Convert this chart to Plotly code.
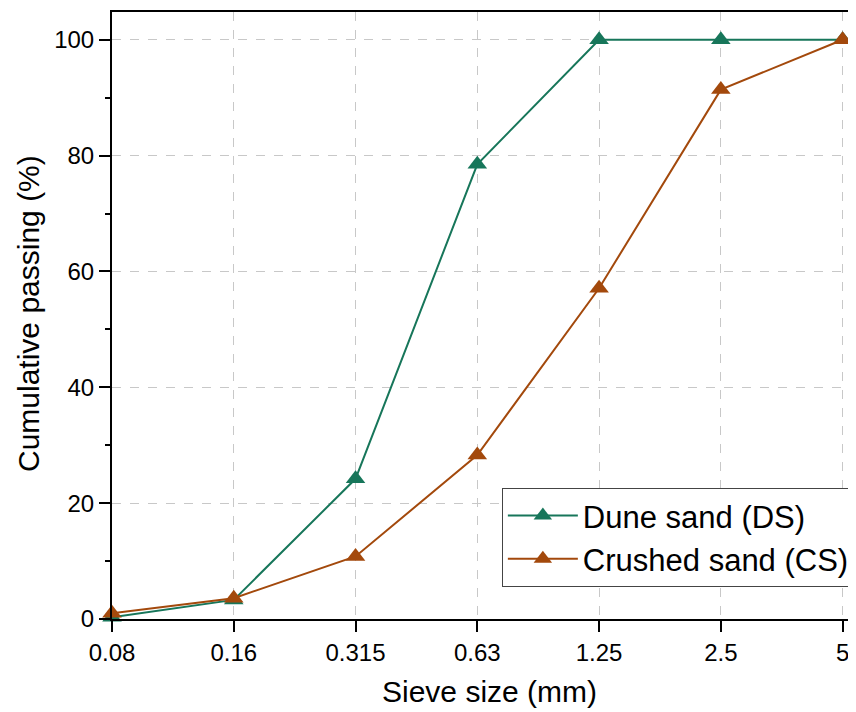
import plotly.graph_objects as go

sieve = ["0.08", "0.16", "0.315", "0.63", "1.25", "2.5", "5"]
ds = [0.3, 3.3, 24.2, 78.5, 100, 100, 100]
cs = [1.0, 3.6, 10.8, 28.3, 57.1, 91.4, 100]

green = "#17765a"
brown = "#a3490c"
xi = list(range(len(sieve)))

fig = go.Figure()
fig.add_trace(go.Scatter(x=xi, y=ds, mode="lines+markers", name="Dune sand (DS)",
                         line=dict(color=green, width=2),
                         marker=dict(symbol="triangle-up", size=17, color=green), cliponaxis=False))
fig.add_trace(go.Scatter(x=xi, y=cs, mode="lines+markers", name="Crushed sand (CS)",
                         line=dict(color=brown, width=2),
                         marker=dict(symbol="triangle-up", size=17, color=brown), cliponaxis=False))

fig.update_layout(
    width=848, height=704,
    margin=dict(l=104, r=0, t=4, b=93),
    plot_bgcolor="white", paper_bgcolor="white",
    font=dict(family="Liberation Sans, Arial, sans-serif", color="black"),
    showlegend=True,
    legend=dict(x=0.524, y=0.216, xanchor="left", yanchor="top",
                bordercolor="#444", borderwidth=1, bgcolor="white",
                font=dict(size=31), tracegroupgap=0, itemwidth=70),
    annotations=[
        dict(text="Sieve size (mm)", xref="paper", yref="paper", x=0.508, y=-0.12,
             xanchor="center", yanchor="middle", showarrow=False, font=dict(size=30)),
        dict(text="Cumulative passing (%)", xref="paper", yref="paper", x=-0.113, y=0.504,
             xanchor="center", yanchor="middle", textangle=-90, showarrow=False, font=dict(size=30)),
    ],
)
fig.update_xaxes(
    range=[0, 6.11], tickvals=xi, ticktext=sieve, automargin=False,
    showline=True, linecolor="black", linewidth=2, mirror=True,
    ticks="outside", ticklen=11, tickwidth=2, tickcolor="black",
    tickfont=dict(size=24),
    showgrid=True, gridcolor="#c8c8c8", griddash="dash", gridwidth=1,
    zeroline=False,
)
fig.update_yaxes(
    range=[0, 104.8], tickvals=[0, 20, 40, 60, 80, 100], automargin=False,
    showline=True, linecolor="black", linewidth=2, mirror=True,
    ticks="outside", ticklen=11, tickwidth=2, tickcolor="black",
    tickfont=dict(size=24),
    minor=dict(tickvals=[10, 30, 50, 70, 90], ticks="outside", ticklen=5, tickwidth=2, tickcolor="black", showgrid=False),
    showgrid=True, gridcolor="#c8c8c8", griddash="dash", gridwidth=1,
    zeroline=False,
)

fig.write_html("out.html")
